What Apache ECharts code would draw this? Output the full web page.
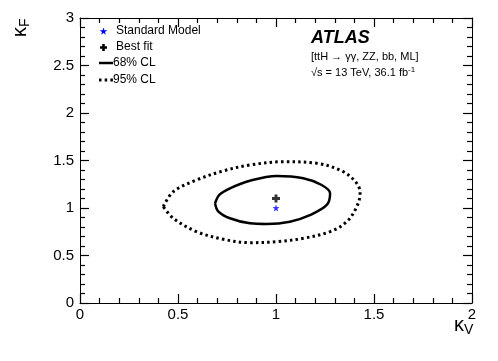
<!DOCTYPE html>
<html>
<head>
<meta charset="utf-8">
<script src="https://cdn.jsdelivr.net/npm/echarts@6/dist/echarts.min.js"></script>
<style>html,body{margin:0;padding:0;background:#fff;}#c{width:498px;height:361px;}</style>
</head>
<body>
<div id="c"></div>
<script>
// ---- data ----
const xTicks = [0, 0.5, 1, 1.5, 2];
const yTicks = [0, 0.5, 1, 1.5, 2, 2.5, 3];
const standardModel = [[1.0, 1.0]];
const bestFit = [[1.0, 1.10]];
const contour68 = [
  [0.689, 1.049], [0.712, 1.140], [0.765, 1.207], [0.867, 1.287], [1.004, 1.337],
  [1.139, 1.313], [1.233, 1.242], [1.276, 1.155], [1.259, 1.032], [1.173, 0.926],
  [1.071, 0.856], [0.953, 0.832], [0.867, 0.839], [0.765, 0.892], [0.705, 0.965],
  [0.689, 1.049]
];
const contour95 = [
  [0.425, 1.014], [0.476, 1.172], [0.595, 1.295], [0.730, 1.390], [0.867, 1.453],
  [1.037, 1.487], [1.208, 1.471], [1.343, 1.382], [1.412, 1.260], [1.429, 1.155],
  [1.412, 1.014], [1.361, 0.856], [1.276, 0.751], [1.139, 0.681], [1.004, 0.645],
  [0.867, 0.635], [0.731, 0.671], [0.595, 0.751], [0.476, 0.892], [0.425, 1.014]
];
const legendLabels = ['Standard Model', 'Best fit', '68% CL', '95% CL'];

const FONT = 'Liberation Sans';
const STAR = 'path://M0,-10 L2.35,-3.24 L9.51,-3.09 L3.8,1.24 L5.88,8.09 L0,4 L-5.88,8.09 L-3.8,1.24 L-9.51,-3.09 L-2.35,-3.24 Z';
const CROSS = 'path://M-1.1,-3 L1.1,-3 L1.1,-1.1 L3,-1.1 L3,1.1 L1.1,1.1 L1.1,3 L-1.1,3 L-1.1,1.1 L-3,1.1 L-3,-1.1 L-1.1,-1.1 Z';

// legend glyph shapes (pixel polygons around a centre)
function starPoints(cx, cy, r) {
  const pts = [];
  for (let i = 0; i < 10; i++) {
    const a = -Math.PI / 2 + i * Math.PI / 5;
    const rr = i % 2 === 0 ? r : r * 0.4;
    pts.push([cx + rr * Math.cos(a), cy + rr * Math.sin(a)]);
  }
  return pts;
}
function crossPoints(cx, cy, r, t) {
  return [[cx - t, cy - r], [cx + t, cy - r], [cx + t, cy - t], [cx + r, cy - t], [cx + r, cy + t],
    [cx + t, cy + t], [cx + t, cy + r], [cx - t, cy + r], [cx - t, cy + t], [cx - r, cy + t],
    [cx - r, cy - t], [cx - t, cy - t]];
}

function axisCommon(showLabel, isX) {
  const ticks = isX ? xTicks : yTicks;
  return {
    type: 'value',
    min: ticks[0], max: ticks[ticks.length - 1], interval: 0.5,
    axisLine: { show: true, onZero: false, lineStyle: { color: '#000', width: 1 } },
    axisTick: { show: true, inside: true, length: 9, lineStyle: { color: '#000', width: 1.2 } },
    minorTick: { show: true, splitNumber: 5, length: 5, lineStyle: { color: '#000', width: 1.2 } },
    splitLine: { show: false },
    minorSplitLine: { show: false },
    axisLabel: {
      show: showLabel, color: '#000', fontFamily: FONT, fontSize: 15,
      margin: isX ? 4 : 6,
      formatter: v => String(v)
    }
  };
}

const chart = echarts.init(document.getElementById('c'), null, { renderer: 'canvas' });
chart.setOption({
  animation: false,
  backgroundColor: '#fff',
  grid: { left: 80, right: 26, top: 18, bottom: 58 },
  xAxis: [
    Object.assign(axisCommon(true, true), { position: 'bottom' }),
    Object.assign(axisCommon(false, true), { position: 'top' })
  ],
  yAxis: [
    Object.assign(axisCommon(true, false), { position: 'left' }),
    Object.assign(axisCommon(false, false), { position: 'right' })
  ],
  series: [
    {
      name: legendLabels[3], type: 'line', data: contour95, smooth: 0.35,
      showSymbol: false, symbol: 'none',
      lineStyle: { color: '#000', width: 3, type: [2.5, 3.2] }
    },
    {
      name: legendLabels[2], type: 'line', data: contour68, smooth: 0.35,
      showSymbol: false, symbol: 'none',
      lineStyle: { color: '#000', width: 2.5 }
    },
    {
      name: legendLabels[0], type: 'scatter', data: standardModel,
      symbol: STAR, symbolSize: 7, itemStyle: { color: '#0000ff' }
    },
    {
      name: legendLabels[1], type: 'scatter', data: bestFit,
      symbol: CROSS, symbolSize: 8, itemStyle: { color: '#000' }
    }
  ],
  graphic: [
    // axis titles
    {
      type: 'text', x: 454, y: 313,
      style: {
        text: '{k|κ}{s|V}',
        rich: {
          k: { fontFamily: FONT, fontSize: 20, fill: '#000' },
          s: { fontFamily: FONT, fontSize: 14, fill: '#000', padding: [10, 0, 0, 0] }
        }
      }
    },
    {
      type: 'text', x: 8, y: 37, rotation: Math.PI / 2,
      style: {
        text: '{k|κ}{s|F}',
        rich: {
          k: { fontFamily: FONT, fontSize: 20, fill: '#000' },
          s: { fontFamily: FONT, fontSize: 14, fill: '#000', padding: [10, 0, 0, 0] }
        }
      }
    },
    // legend
    { type: 'polygon', shape: { points: starPoints(103.5, 31.5, 4) }, style: { fill: '#0000ff' } },
    { type: 'text', x: 116, y: 25, style: { text: legendLabels[0], fontFamily: FONT, fontSize: 12, fill: '#000' } },
    { type: 'polygon', shape: { points: crossPoints(103.5, 47.5, 3.5, 1.3) }, style: { fill: '#000' } },
    { type: 'text', x: 116, y: 41, style: { text: legendLabels[1], fontFamily: FONT, fontSize: 12, fill: '#000' } },
    { type: 'line', shape: { x1: 99, y1: 63, x2: 113, y2: 63 }, style: { stroke: '#000', lineWidth: 2.5 } },
    { type: 'text', x: 113, y: 57, style: { text: legendLabels[2], fontFamily: FONT, fontSize: 12, fill: '#000' } },
    { type: 'line', shape: { x1: 99, y1: 80, x2: 113, y2: 80 }, style: { stroke: '#000', lineWidth: 3, lineDash: [2.5, 3.2] } },
    { type: 'text', x: 113, y: 74, style: { text: legendLabels[3], fontFamily: FONT, fontSize: 12, fill: '#000' } },
    // ATLAS label
    { type: 'text', x: 311, y: 29, style: { text: 'ATLAS', fontFamily: FONT, fontSize: 18, fontWeight: 'bold', fontStyle: 'italic', fill: '#000' } },
    { type: 'text', x: 311, y: 51, style: { text: '[ttH → γγ, ZZ, bb, ML]', fontFamily: FONT, fontSize: 11, fill: '#000' } },
    {
      type: 'text', x: 311, y: 66,
      style: {
        text: '{a|√s = 13 TeV, 36.1 fb}{b|-1}',
        rich: {
          a: { fontFamily: FONT, fontSize: 11, fill: '#000' },
          b: { fontFamily: FONT, fontSize: 8, fill: '#000', padding: [0, 0, 6, 0] }
        }
      }
    }
  ]
});
</script>
</body>
</html>
